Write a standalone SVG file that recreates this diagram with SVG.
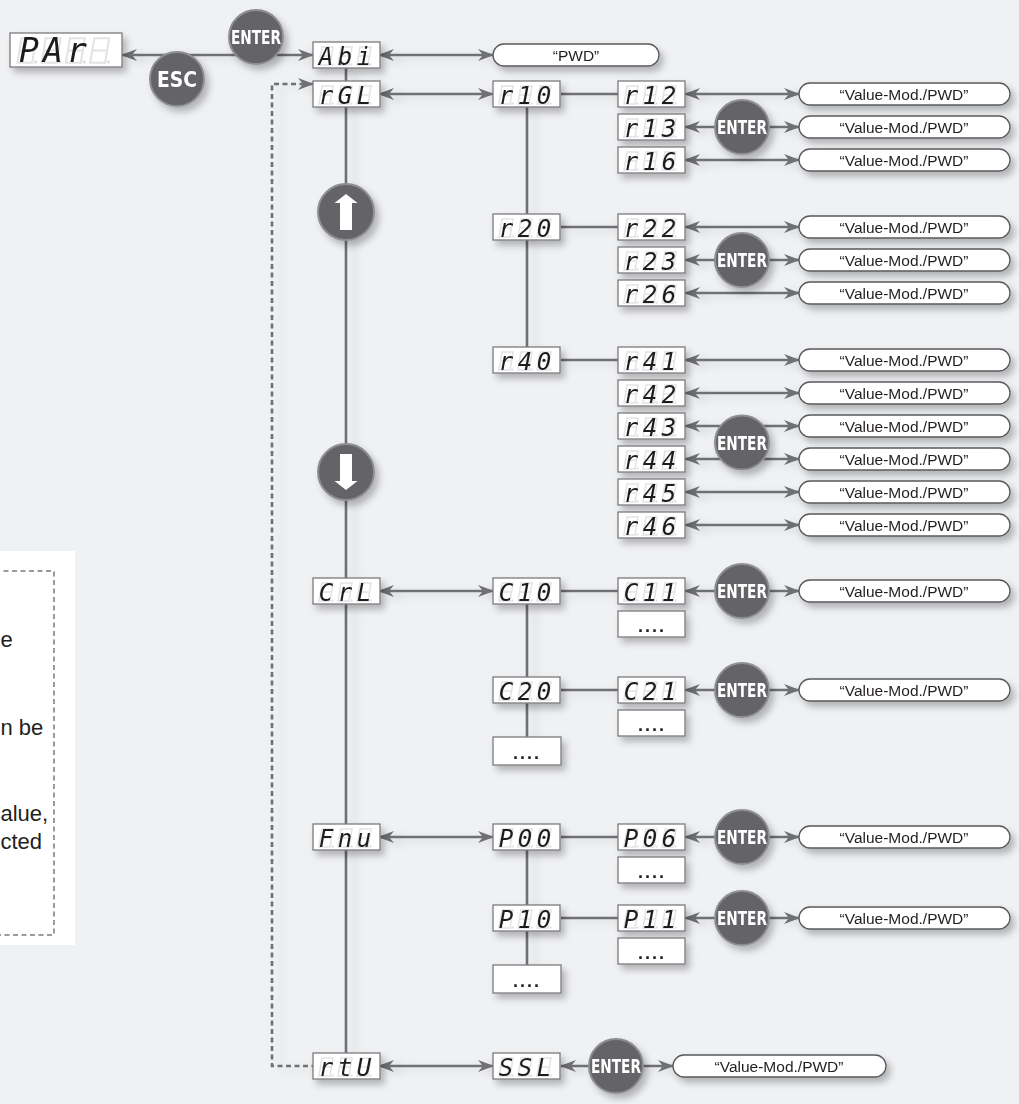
<svg xmlns="http://www.w3.org/2000/svg" xmlns:xlink="http://www.w3.org/1999/xlink" width="1019" height="1104" viewBox="0 0 1019 1104">
<style>
.disp{fill:#fff;stroke:#7b7c7f;stroke-width:1.3}
.ghost{fill:none;stroke:#e2e3e5;stroke-width:1.5}
.gdot{fill:#dcdde0}
.seg{font-family:"DejaVu Sans Mono","Liberation Mono",monospace;font-style:italic;font-size:24px;fill:#1d1d1f;text-anchor:middle}
.segb{font-family:"DejaVu Sans Mono","Liberation Mono",monospace;font-style:italic;font-size:33px;fill:#1d1d1f;text-anchor:middle}
.pill{fill:#fff;stroke:#58595b;stroke-width:1.3}
.pt{font-family:"Liberation Sans",Arial,sans-serif;font-size:15.5px;fill:#231f20;text-anchor:middle}
.dots{font-family:"Liberation Sans",Arial,sans-serif;font-size:18px;font-weight:bold;fill:#231f20;text-anchor:middle;letter-spacing:2px}
.btn{fill:#636468;stroke:#8e8f92;stroke-width:2}
.bt{font-family:"Liberation Sans Narrow","DejaVu Sans Condensed","Liberation Sans",sans-serif;font-weight:bold;fill:#fff;text-anchor:middle}
.ln{stroke:#6e6f73;stroke-width:2.6;fill:none}
.arr{stroke:#6e6f73;stroke-width:2.6;fill:none;marker-start:url(#ah);marker-end:url(#ah)}
.dash{stroke:#6e6f73;stroke-width:2.6;fill:none;stroke-dasharray:5 3.5}
.leg{font-family:"Liberation Sans",Arial,sans-serif;font-size:22px;fill:#231f20}
</style>
<defs>
<filter id="sh" x="-20%" y="-30%" width="150%" height="180%">
<feDropShadow dx="4" dy="5" stdDeviation="3.5" flood-color="#000" flood-opacity="0.26"/>
</filter>
<filter id="lsh" x="-20%" y="-5%" width="150%" height="110%">
<feDropShadow dx="8" dy="3" stdDeviation="4.5" flood-color="#000" flood-opacity="0.12"/>
</filter>
<marker id="ah" markerUnits="userSpaceOnUse" markerWidth="16" markerHeight="12" refX="15" refY="6" orient="auto-start-reverse" viewBox="0 0 16 12">
<path d="M0,0 L16,6 L0,12 L5,6 Z" fill="#6e6f73"/>
</marker>
<g id="g8">
<path class="ghost" d="M4,1 H15 L12,19 H1 Z M2.5,10 H13.5"/>
<rect class="gdot" x="13.5" y="17.5" width="2" height="2"/>
</g>
<g id="g3">
<use xlink:href="#g8" x="5" y="4"/>
<use xlink:href="#g8" x="24" y="4"/>
<use xlink:href="#g8" x="43" y="4"/>
</g>
<rect id="sbox" class="disp" width="67" height="26"/>
</defs>

<rect width="1019" height="1104" fill="#f0f1f3"/>

<g id="legend">
<rect x="-2" y="551" width="77" height="394" fill="#fff"/>
<path d="M-5,571 H54 V935 H-5" fill="none" stroke="#9a9b9e" stroke-width="2" stroke-dasharray="5 3.5"/>
<text class="leg" x="0.5" y="647">e</text>
<text class="leg" x="0.5" y="735">n be</text>
<text class="leg" x="0.5" y="821">alue,</text>
<text class="leg" x="0.5" y="849">cted</text>
</g>

<g id="connectors" filter="url(#lsh)">
<path class="dash" d="M313,84 H272 V1066 H313" marker-start="url(#ah)"/>
<path class="ln" d="M346,67 V1053"/>
<path class="ln" d="M527,107 V347 M527,604 V737 M527,850 V965"/>
<path class="ln" d="M561,94 H618 M561,227 H618 M561,360 H618 M561,591 H618 M561,690 H618 M561,837 H618 M561,918 H618"/>
<path class="arr" d="M122,55 H313"/>
<path class="arr" d="M379,55 H493"/>
<path class="arr" d="M379,94 H493"/>
<path class="arr" d="M379,591 H493"/>
<path class="arr" d="M379,837 H493"/>
<path class="arr" d="M379,1066 H493"/>
<path class="arr" d="M561,1066 H673"/>
<path class="arr" d="M685,94 H799"/>
<path class="arr" d="M685,127 H799"/>
<path class="arr" d="M685,160 H799"/>
<path class="arr" d="M685,227 H799"/>
<path class="arr" d="M685,260 H799"/>
<path class="arr" d="M685,293 H799"/>
<path class="arr" d="M685,360 H799"/>
<path class="arr" d="M685,393 H799"/>
<path class="arr" d="M685,426 H799"/>
<path class="arr" d="M685,459 H799"/>
<path class="arr" d="M685,492 H799"/>
<path class="arr" d="M685,525 H799"/>
<path class="arr" d="M685,591 H799"/>
<path class="arr" d="M685,690 H799"/>
<path class="arr" d="M685,837 H799"/>
<path class="arr" d="M685,918 H799"/>
</g>

<g id="n-PAr" transform="translate(10,33)" filter="url(#sh)">
<rect class="disp" width="112" height="34"/>
<g transform="translate(6,4) scale(1.35)"><use xlink:href="#g8" x="0" y="0"/><use xlink:href="#g8" x="18" y="0"/><use xlink:href="#g8" x="36" y="0"/><use xlink:href="#g8" x="54" y="0"/></g>
<text class="segb" x="19 43 67" y="29">PAr</text>
</g>

<g id="n-Abi" transform="translate(313,42)" filter="url(#sh)"><use xlink:href="#sbox"/><use xlink:href="#g3"/><text class="seg" x="13 32 51" y="22.5">Abi</text></g>
<g id="n-rGL" transform="translate(313,81)" filter="url(#sh)"><use xlink:href="#sbox"/><use xlink:href="#g3"/><text class="seg" x="13 32 51" y="22.5">rGL</text></g>
<g id="n-CrL" transform="translate(313,578)" filter="url(#sh)"><use xlink:href="#sbox"/><use xlink:href="#g3"/><text class="seg" x="13 32 51" y="22.5">CrL</text></g>
<g id="n-Fnu" transform="translate(313,824)" filter="url(#sh)"><use xlink:href="#sbox"/><use xlink:href="#g3"/><text class="seg" x="13 32 51" y="22.5">Fnu</text></g>
<g id="n-rtU" transform="translate(313,1053)" filter="url(#sh)"><use xlink:href="#sbox"/><use xlink:href="#g3"/><text class="seg" x="13 32 51" y="22.5">rtU</text></g>

<g id="n-r10" transform="translate(493,81)" filter="url(#sh)"><use xlink:href="#sbox"/><use xlink:href="#g3"/><text class="seg" x="13 32 51" y="22.5">r10</text></g>
<g id="n-r20" transform="translate(493,214)" filter="url(#sh)"><use xlink:href="#sbox"/><use xlink:href="#g3"/><text class="seg" x="13 32 51" y="22.5">r20</text></g>
<g id="n-r40" transform="translate(493,347)" filter="url(#sh)"><use xlink:href="#sbox"/><use xlink:href="#g3"/><text class="seg" x="13 32 51" y="22.5">r40</text></g>
<g id="n-C10" transform="translate(493,578)" filter="url(#sh)"><use xlink:href="#sbox"/><use xlink:href="#g3"/><text class="seg" x="13 32 51" y="22.5">C10</text></g>
<g id="n-C20" transform="translate(493,677)" filter="url(#sh)"><use xlink:href="#sbox"/><use xlink:href="#g3"/><text class="seg" x="13 32 51" y="22.5">C20</text></g>
<g id="n-Cdots" transform="translate(493,737)" filter="url(#sh)"><rect class="disp" width="68" height="28"/><text class="dots" x="34" y="22">....</text></g>
<g id="n-P00" transform="translate(493,824)" filter="url(#sh)"><use xlink:href="#sbox"/><use xlink:href="#g3"/><text class="seg" x="13 32 51" y="22.5">P00</text></g>
<g id="n-P10" transform="translate(493,905)" filter="url(#sh)"><use xlink:href="#sbox"/><use xlink:href="#g3"/><text class="seg" x="13 32 51" y="22.5">P10</text></g>
<g id="n-Pdots" transform="translate(493,965)" filter="url(#sh)"><rect class="disp" width="68" height="28"/><text class="dots" x="34" y="22">....</text></g>
<g id="n-SSL" transform="translate(493,1053)" filter="url(#sh)"><use xlink:href="#sbox"/><use xlink:href="#g3"/><text class="seg" x="13 32 51" y="22.5">SSL</text></g>

<g id="n-r12" transform="translate(618,81)" filter="url(#sh)"><use xlink:href="#sbox"/><use xlink:href="#g3"/><text class="seg" x="13 32 51" y="22.5">r12</text></g>
<g id="n-r13" transform="translate(618,114)" filter="url(#sh)"><use xlink:href="#sbox"/><use xlink:href="#g3"/><text class="seg" x="13 32 51" y="22.5">r13</text></g>
<g id="n-r16" transform="translate(618,147)" filter="url(#sh)"><use xlink:href="#sbox"/><use xlink:href="#g3"/><text class="seg" x="13 32 51" y="22.5">r16</text></g>
<g id="n-r22" transform="translate(618,214)" filter="url(#sh)"><use xlink:href="#sbox"/><use xlink:href="#g3"/><text class="seg" x="13 32 51" y="22.5">r22</text></g>
<g id="n-r23" transform="translate(618,247)" filter="url(#sh)"><use xlink:href="#sbox"/><use xlink:href="#g3"/><text class="seg" x="13 32 51" y="22.5">r23</text></g>
<g id="n-r26" transform="translate(618,280)" filter="url(#sh)"><use xlink:href="#sbox"/><use xlink:href="#g3"/><text class="seg" x="13 32 51" y="22.5">r26</text></g>
<g id="n-r41" transform="translate(618,347)" filter="url(#sh)"><use xlink:href="#sbox"/><use xlink:href="#g3"/><text class="seg" x="13 32 51" y="22.5">r41</text></g>
<g id="n-r42" transform="translate(618,380)" filter="url(#sh)"><use xlink:href="#sbox"/><use xlink:href="#g3"/><text class="seg" x="13 32 51" y="22.5">r42</text></g>
<g id="n-r43" transform="translate(618,413)" filter="url(#sh)"><use xlink:href="#sbox"/><use xlink:href="#g3"/><text class="seg" x="13 32 51" y="22.5">r43</text></g>
<g id="n-r44" transform="translate(618,446)" filter="url(#sh)"><use xlink:href="#sbox"/><use xlink:href="#g3"/><text class="seg" x="13 32 51" y="22.5">r44</text></g>
<g id="n-r45" transform="translate(618,479)" filter="url(#sh)"><use xlink:href="#sbox"/><use xlink:href="#g3"/><text class="seg" x="13 32 51" y="22.5">r45</text></g>
<g id="n-r46" transform="translate(618,512)" filter="url(#sh)"><use xlink:href="#sbox"/><use xlink:href="#g3"/><text class="seg" x="13 32 51" y="22.5">r46</text></g>
<g id="n-C11" transform="translate(618,578)" filter="url(#sh)"><use xlink:href="#sbox"/><use xlink:href="#g3"/><text class="seg" x="13 32 51" y="22.5">C11</text></g>
<g id="n-C11dots" transform="translate(618,611)" filter="url(#sh)"><rect class="disp" width="67" height="26"/><text class="dots" x="34" y="21">....</text></g>
<g id="n-C21" transform="translate(618,677)" filter="url(#sh)"><use xlink:href="#sbox"/><use xlink:href="#g3"/><text class="seg" x="13 32 51" y="22.5">C21</text></g>
<g id="n-C21dots" transform="translate(618,710)" filter="url(#sh)"><rect class="disp" width="67" height="26"/><text class="dots" x="34" y="21">....</text></g>
<g id="n-P06" transform="translate(618,824)" filter="url(#sh)"><use xlink:href="#sbox"/><use xlink:href="#g3"/><text class="seg" x="13 32 51" y="22.5">P06</text></g>
<g id="n-P06dots" transform="translate(618,857)" filter="url(#sh)"><rect class="disp" width="67" height="26"/><text class="dots" x="34" y="21">....</text></g>
<g id="n-P11" transform="translate(618,905)" filter="url(#sh)"><use xlink:href="#sbox"/><use xlink:href="#g3"/><text class="seg" x="13 32 51" y="22.5">P11</text></g>
<g id="n-P11dots" transform="translate(618,938)" filter="url(#sh)"><rect class="disp" width="67" height="26"/><text class="dots" x="34" y="21">....</text></g>

<g id="pills" filter="url(#sh)">
<g id="p-PWD"><rect class="pill" x="493" y="44" width="166" height="22" rx="11"/><text class="pt" x="576" y="60.5">“PWD”</text></g>
<g id="p-r12"><rect class="pill" x="799" y="83" width="211" height="22" rx="11"/><text class="pt" x="904" y="99.5">“Value-Mod./PWD”</text></g>
<g id="p-r13"><rect class="pill" x="799" y="116" width="211" height="22" rx="11"/><text class="pt" x="904" y="132.5">“Value-Mod./PWD”</text></g>
<g id="p-r16"><rect class="pill" x="799" y="149" width="211" height="22" rx="11"/><text class="pt" x="904" y="165.5">“Value-Mod./PWD”</text></g>
<g id="p-r22"><rect class="pill" x="799" y="216" width="211" height="22" rx="11"/><text class="pt" x="904" y="232.5">“Value-Mod./PWD”</text></g>
<g id="p-r23"><rect class="pill" x="799" y="249" width="211" height="22" rx="11"/><text class="pt" x="904" y="265.5">“Value-Mod./PWD”</text></g>
<g id="p-r26"><rect class="pill" x="799" y="282" width="211" height="22" rx="11"/><text class="pt" x="904" y="298.5">“Value-Mod./PWD”</text></g>
<g id="p-r41"><rect class="pill" x="799" y="349" width="211" height="22" rx="11"/><text class="pt" x="904" y="365.5">“Value-Mod./PWD”</text></g>
<g id="p-r42"><rect class="pill" x="799" y="382" width="211" height="22" rx="11"/><text class="pt" x="904" y="398.5">“Value-Mod./PWD”</text></g>
<g id="p-r43"><rect class="pill" x="799" y="415" width="211" height="22" rx="11"/><text class="pt" x="904" y="431.5">“Value-Mod./PWD”</text></g>
<g id="p-r44"><rect class="pill" x="799" y="448" width="211" height="22" rx="11"/><text class="pt" x="904" y="464.5">“Value-Mod./PWD”</text></g>
<g id="p-r45"><rect class="pill" x="799" y="481" width="211" height="22" rx="11"/><text class="pt" x="904" y="497.5">“Value-Mod./PWD”</text></g>
<g id="p-r46"><rect class="pill" x="799" y="514" width="211" height="22" rx="11"/><text class="pt" x="904" y="530.5">“Value-Mod./PWD”</text></g>
<g id="p-C11"><rect class="pill" x="799" y="580" width="211" height="22" rx="11"/><text class="pt" x="904" y="596.5">“Value-Mod./PWD”</text></g>
<g id="p-C21"><rect class="pill" x="799" y="679" width="211" height="22" rx="11"/><text class="pt" x="904" y="695.5">“Value-Mod./PWD”</text></g>
<g id="p-P06"><rect class="pill" x="799" y="826" width="211" height="22" rx="11"/><text class="pt" x="904" y="842.5">“Value-Mod./PWD”</text></g>
<g id="p-P11"><rect class="pill" x="799" y="907" width="211" height="22" rx="11"/><text class="pt" x="904" y="923.5">“Value-Mod./PWD”</text></g>
<g id="p-SSL"><rect class="pill" x="673" y="1055" width="213" height="22" rx="11"/><text class="pt" x="779" y="1071.5">“Value-Mod./PWD”</text></g>
</g>

<g id="buttons" filter="url(#sh)">
<g id="b-esc"><circle class="btn" cx="177" cy="79" r="27"/><text class="bt" x="177" y="87" font-size="22" textLength="40" lengthAdjust="spacingAndGlyphs">ESC</text></g>
<g id="b-enter0"><circle class="btn" cx="256" cy="37" r="27"/><text class="bt" x="256" y="44" font-size="20" textLength="50" lengthAdjust="spacingAndGlyphs">ENTER</text></g>
<g id="b-up"><circle class="btn" cx="346" cy="212" r="28"/><path d="M346,194 L357.5,203 H352 V230 H340 V203 H334.5 Z" fill="#fff"/></g>
<g id="b-down"><circle class="btn" cx="346" cy="472" r="28"/><path d="M346,490 L357.5,481 H352 V454 H340 V481 H334.5 Z" fill="#fff"/></g>
<g id="b-enter1"><circle class="btn" cx="742" cy="127" r="27"/><text class="bt" x="742" y="134" font-size="20" textLength="50" lengthAdjust="spacingAndGlyphs">ENTER</text></g>
<g id="b-enter2"><circle class="btn" cx="742" cy="260" r="27"/><text class="bt" x="742" y="267" font-size="20" textLength="50" lengthAdjust="spacingAndGlyphs">ENTER</text></g>
<g id="b-enter3"><circle class="btn" cx="742" cy="442.5" r="27"/><text class="bt" x="742" y="449.5" font-size="20" textLength="50" lengthAdjust="spacingAndGlyphs">ENTER</text></g>
<g id="b-enter4"><circle class="btn" cx="742" cy="591" r="27"/><text class="bt" x="742" y="598" font-size="20" textLength="50" lengthAdjust="spacingAndGlyphs">ENTER</text></g>
<g id="b-enter5"><circle class="btn" cx="742" cy="690" r="27"/><text class="bt" x="742" y="697" font-size="20" textLength="50" lengthAdjust="spacingAndGlyphs">ENTER</text></g>
<g id="b-enter6"><circle class="btn" cx="742" cy="837" r="27"/><text class="bt" x="742" y="844" font-size="20" textLength="50" lengthAdjust="spacingAndGlyphs">ENTER</text></g>
<g id="b-enter7"><circle class="btn" cx="742" cy="918" r="27"/><text class="bt" x="742" y="925" font-size="20" textLength="50" lengthAdjust="spacingAndGlyphs">ENTER</text></g>
<g id="b-enter8"><circle class="btn" cx="616" cy="1066" r="27"/><text class="bt" x="616" y="1073" font-size="20" textLength="50" lengthAdjust="spacingAndGlyphs">ENTER</text></g>
</g>
</svg>
